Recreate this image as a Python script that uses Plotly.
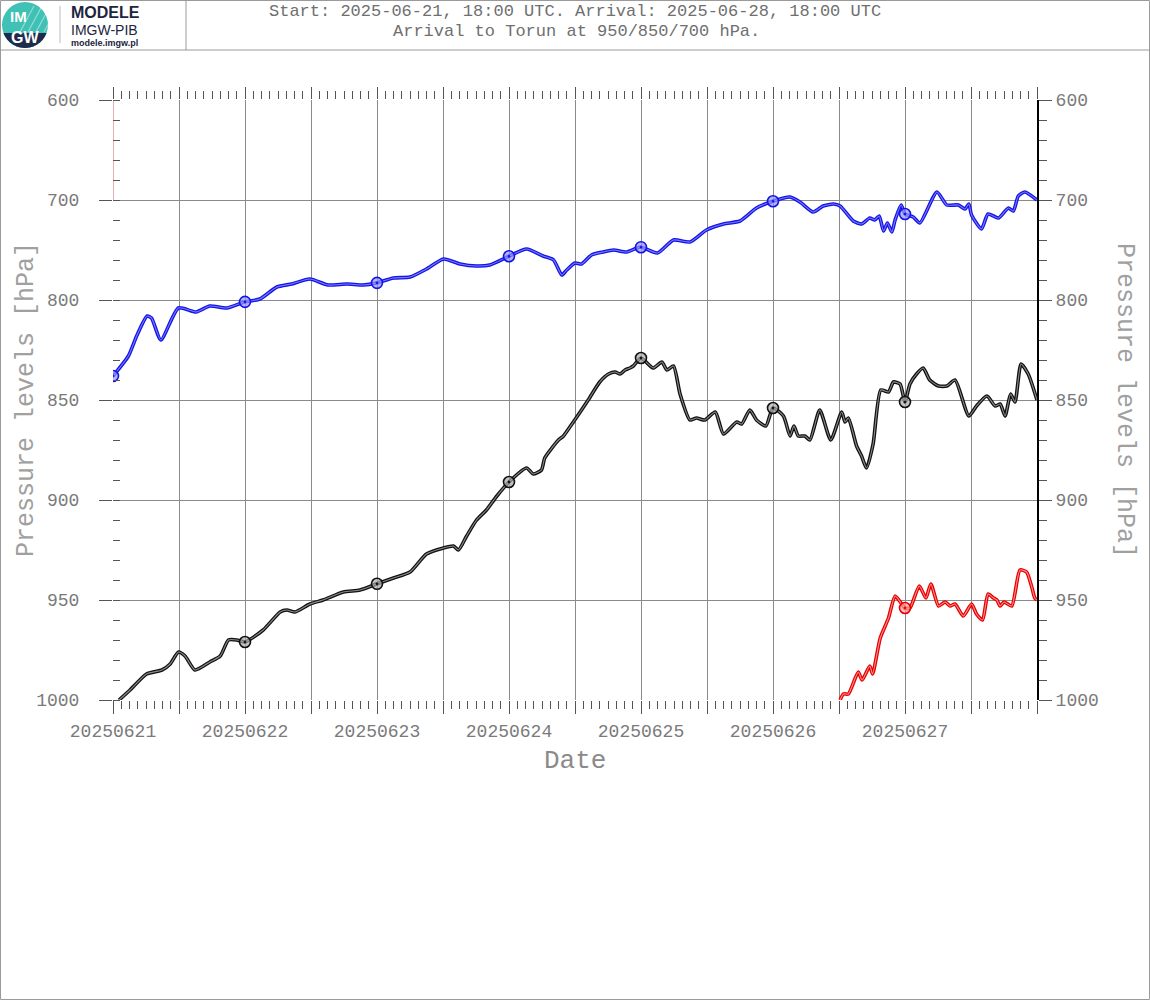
import numpy as np
import plotly.graph_objects as go

# ---------------- data ----------------
levels = [600, 700, 800, 850, 900, 950, 1000]
date_labels = ["20250621", "20250622", "20250623", "20250624", "20250625", "20250626", "20250627"]

blue_h = [0, 2.8, 4.3, 6.2, 7.0, 8.7, 11.9, 15.1, 17.6, 20.7, 23.9, 26.7, 29.8, 32.5, 35.8, 39.1, 42.5, 45.5, 47.9,
          51.0, 54.0, 57.0, 60.1, 63.1, 66.1, 68.5, 72.1, 75.2, 78.2, 80.1, 81.6, 82.5, 84.0, 85.2, 87.0, 89.1, 91.0,
          93.4, 95.9, 99.0, 101.9, 104.9, 107.9, 111.0, 114.0, 117.0, 120.1, 123.1, 124.9, 127.3, 129.1, 131.0, 132.2,
          134.6, 136.1, 137.6, 138.5, 139.3, 140.1, 140.8, 141.6, 142.2, 143.3, 144.0, 145.5, 146.7, 149.8, 151.6,
          153.7, 154.9, 155.6, 156.1, 157.9, 159.1, 161.0, 162.8, 163.7, 164.6, 165.8, 168.0]
blue_p = [838, 828, 818, 808, 809, 820, 804, 806, 803, 804, 801, 799, 787, 784, 779, 785, 784, 785, 783,
          778, 777, 769, 759, 764, 766, 765, 756, 749, 756, 760, 775, 770, 763, 764, 755, 752, 750,
          752, 747, 753, 740, 742, 730, 724, 721, 708, 701, 697, 702, 712, 706, 704, 706,
          721, 724, 718, 720, 716, 731, 723, 732, 720, 705, 714, 717, 723, 692, 705,
          705, 709, 704, 715, 729, 714, 718, 708, 711, 696, 692, 700]

black_h = [1.1, 3.1, 6.1, 8.9, 10.4, 11.9, 13.1, 14.9, 17.6, 19.5, 21.0, 22.5, 24.0, 27.3, 30.4, 31.6, 33.1, 35.8,
           38.2, 41.9, 44.9, 47.9, 51.0, 54.0, 57.0, 60.1, 61.9, 62.8, 64.3, 66.1, 67.9, 69.8, 72.0, 75.2, 76.4,
           77.9, 78.5, 81.0, 81.9, 83.7, 86.4, 88.5, 90.1, 91.3, 92.2, 93.1, 94.0, 94.6, 96.0, 98.2, 99.8, 100.7,
           101.9, 103.1, 104.9, 106.1, 107.6, 109.5, 111.0, 113.4, 114.3, 115.8, 117.0, 118.7, 120.0, 121.9, 123.1,
           123.8, 124.6, 125.8, 126.7, 128.5, 130.5, 132.5, 133.1, 133.7, 135.2, 136.1, 137.0, 138.2, 139.6, 141.0,
           141.9, 143.1, 144.0, 144.9, 146.1, 147.3, 148.5, 150.1, 151.6, 153.1, 155.6, 157.0, 158.9, 160.4, 161.3,
           162.2, 163.2, 164.0, 165.1, 166.4, 168.0]
black_p = [1000, 995, 987, 985, 982, 976, 978, 985, 981, 978, 970, 970, 971, 965, 956, 955, 956, 952,
           950, 946, 945, 942, 939, 936, 927, 924, 923, 925, 918, 910, 905, 898, 891, 884, 887,
           885, 879, 870, 868, 861, 850, 841, 837, 836, 837, 835, 834, 833, 829, 834, 831, 835,
           833, 847, 860, 859, 860, 856, 867, 861, 862, 855, 860, 863, 854, 858, 868,
           863, 868, 868, 870, 855, 870, 856, 861, 859, 873, 878, 884, 872, 845, 846,
           841, 842, 851, 842, 837, 834, 840, 843, 843, 840, 858, 853, 848, 853, 852,
           858, 847, 851, 832, 837, 850]

red_h = [132.2, 132.8, 133.7, 135.5, 136.2, 137.6, 138.1, 139.5, 141.0, 142.2, 143.4, 144.0, 144.9, 146.6, 147.8,
         148.7, 150.1, 151.3, 152.2, 153.1, 154.6, 156.1, 157.0, 158.1, 159.1, 160.1, 160.7, 161.3, 162.0, 163.4,
         164.9, 166.1, 167.0, 167.6, 168.0]
red_p = [1000, 997, 997, 986, 990, 983, 987, 969, 959, 948, 952, 954, 954, 943, 949,
         942, 953, 951, 953, 952, 958, 952, 957, 960, 947, 949, 950, 953, 951, 953,
         935, 936, 943, 949, 950]

# thin red segment at the left edge of the plot
red_edge_h = [0, 0]
red_edge_p = [600, 700]

blue_marker_h = [0, 24, 48, 72, 96, 120, 144]
black_marker_h = [24, 48, 72, 96, 120, 144]
red_marker_h = [144]

# ---------------- geometry ----------------
W, H = 1150, 1000
ML, MR, MT, MB = 113, 113, 100, 300
PW, PH = W - ML - MR, H - MT - MB


def px(x):
    return (x - ML) / PW


def py(y):
    return (H - MB - y) / PH


def to_pos(p):
    return np.interp(np.asarray(p, float), levels, np.arange(len(levels)))


GRID = "#8a8a8a"
TXT = "#7a7a7a"
MONO = "Liberation Mono"

fig = go.Figure()


def add_series(h, p, outer, inner, mh, mfill):
    y = to_pos(p)
    fig.add_trace(go.Scatter(x=h, y=y, mode="lines", line=dict(color=outer, width=3.6, shape="spline", smoothing=0.6),
                             hoverinfo="skip"))
    fig.add_trace(go.Scatter(x=h, y=y, mode="lines", line=dict(color=inner, width=1.1, shape="spline", smoothing=0.6),
                             hoverinfo="skip"))
    mp = np.interp(mh, h, p)
    fig.add_trace(go.Scatter(x=mh, y=to_pos(mp), mode="markers",
                             marker=dict(symbol="circle-dot", size=11, color=mfill,
                                         line=dict(color=outer, width=1.6)), hoverinfo="skip"))


add_series(blue_h, blue_p, "#1414e6", "#7a7aff", blue_marker_h, "rgba(150,150,255,0.7)")
add_series(black_h, black_p, "#111111", "#8c8c8c", black_marker_h, "rgba(170,170,170,0.7)")
add_series(red_h, red_p, "#e60000", "#ff8c8c", red_marker_h, "rgba(255,160,160,0.7)")

fig.add_trace(go.Scatter(x=red_edge_h, y=to_pos(red_edge_p), mode="lines", xaxis="x2", yaxis="y2",
                         line=dict(color="#c86464", width=1), hoverinfo="skip"))

xt = list(np.arange(0, 169, 12))
xtt = [date_labels[i // 2] if (i % 2 == 0 and i // 2 < len(date_labels)) else "" for i in range(len(xt))]

fig.update_layout(
    width=W, height=H, margin=dict(l=ML, r=MR, t=MT, b=MB),
    paper_bgcolor="white", plot_bgcolor="white", showlegend=False,
    xaxis=dict(range=[0, 168], tickmode="array", tickvals=xt, ticktext=xtt, showgrid=True, gridcolor=GRID,
               gridwidth=1, zeroline=False, showline=False, ticks="outside", ticklen=13, tickcolor="#555",
               tickwidth=1, ticklabelstandoff=1,
               tickfont=dict(family=MONO, size=18, color=TXT),
               minor=dict(dtick=1.5, tick0=0, ticks="outside", ticklen=8, tickcolor="#555", showgrid=False)),
    xaxis2=dict(range=[0, 168], overlaying="x", side="top", anchor="y2", matches="x", tickmode="array",
                tickvals=xt, showticklabels=False, showgrid=False, zeroline=False, showline=False,
                ticks="outside", ticklen=12, tickcolor="#555",
                minor=dict(dtick=1.5, tick0=0, ticks="outside", ticklen=8, tickcolor="#555", showgrid=False)),
    yaxis=dict(range=[6, 0], tickmode="array", tickvals=list(range(7)), ticktext=[str(v) for v in levels],
               showgrid=True, gridcolor=GRID, gridwidth=1, zeroline=False, showline=False,
               ticks="outside", ticklen=13, tickcolor="#555", ticklabelstandoff=16,
               tickfont=dict(family=MONO, size=18, color=TXT),
               minor=dict(dtick=0.2, tick0=0, ticks="inside", ticklen=7, tickcolor="#555", showgrid=False)),
    yaxis2=dict(range=[6, 0], overlaying="y", side="right", anchor="x2", matches="y", tickmode="array",
                tickvals=list(range(7)), ticktext=[str(v) for v in levels], showgrid=False, zeroline=False,
                showline=True, linecolor="black", linewidth=2, ticks="outside", ticklen=13, tickcolor="#555",
                tickfont=dict(family=MONO, size=18, color=TXT),
                minor=dict(dtick=0.2, tick0=0, ticks="outside", ticklen=8, tickcolor="#555", showgrid=False)),
)

# ---------------- header / frame ----------------
shapes = []
shapes.append(dict(type="rect", xref="paper", yref="paper", x0=px(0.5), x1=px(W - 0.5), y0=py(0.5), y1=py(H - 0.5),
                   line=dict(color="#9a9a9a", width=1), layer="below"))
shapes.append(dict(type="line", xref="paper", yref="paper", x0=px(0), x1=px(W), y0=py(50), y1=py(50),
                   line=dict(color="#9a9a9a", width=1)))
shapes.append(dict(type="line", xref="paper", yref="paper", x0=px(186), x1=px(186), y0=py(0), y1=py(50),
                   line=dict(color="#9a9a9a", width=1)))
shapes.append(dict(type="line", xref="paper", yref="paper", x0=px(60), x1=px(60), y0=py(6), y1=py(43),
                   line=dict(color="#bbbbbb", width=1)))
# logo circle
cx, cy, r = 25, 25, 23
shapes.append(dict(type="circle", xref="paper", yref="paper", x0=px(cx - r), x1=px(cx + r), y0=py(cy - r),
                   y1=py(cy + r), fillcolor="#3fc1b5", line=dict(color="#3fc1b5", width=0)))
ang = np.linspace(np.arcsin(8 / r), np.pi - np.arcsin(8 / r), 30)
seg = [(cx + r * np.cos(a), cy + r * np.sin(a)) for a in ang]
path = "M " + " L ".join(f"{px(a):.5f},{py(b):.5f}" for a, b in seg) + " Z"
shapes.append(dict(type="path", xref="paper", yref="paper", path=path, fillcolor="#1f2b4d", line=dict(width=0)))
for k in range(4):
    shapes.append(dict(type="line", xref="paper", yref="paper", x0=px(20 + 8 * k), x1=px(34 + 8 * k),
                       y0=py(32), y1=py(6), line=dict(color="rgba(255,255,255,0.45)", width=1.2)))
fig.update_layout(shapes=shapes)

ann = []


def A(text, x, y, size, color, family=MONO, xanchor="center", yanchor="middle", angle=0):
    ann.append(dict(text=text, x=px(x), y=py(y), xref="paper", yref="paper", showarrow=False,
                    xanchor=xanchor, yanchor=yanchor, textangle=angle,
                    font=dict(size=size, color=color, family=family)))


A("Start: 2025-06-21, 18:00 UTC. Arrival: 2025-06-28, 18:00 UTC", 575, 12, 17, "#6f6f6f")
A("Arrival to Torun at 950/850/700 hPa.", 576, 31, 17, "#6f6f6f")
A("<b>MODELE</b>", 69, 13, 16, "#1c2540", family="Liberation Sans", xanchor="left")
A("IMGW-PIB", 69, 30, 14, "#1c2540", family="Liberation Sans", xanchor="left")
A("<b>modele.imgw.pl</b>", 69, 43, 9, "#1c2540", family="Liberation Sans", xanchor="left")
A("<b>IM</b>", 18, 17, 15, "white", family="Liberation Sans")
A("<b>GW</b>", 25, 37, 16, "white", family="Liberation Sans")
A("Pressure levels [hPa]", 26, 400, 25, "#a0a0a0", angle=-90)
A("Pressure levels [hPa]", 1125, 400, 25, "#a0a0a0", angle=90)
A("Date", 575, 761, 26, "#8a8a8a")
fig.update_layout(annotations=ann)

fig.write_html("out.html", config={"displayModeBar": False},
               post_script="document.body.style.margin='0px';")
